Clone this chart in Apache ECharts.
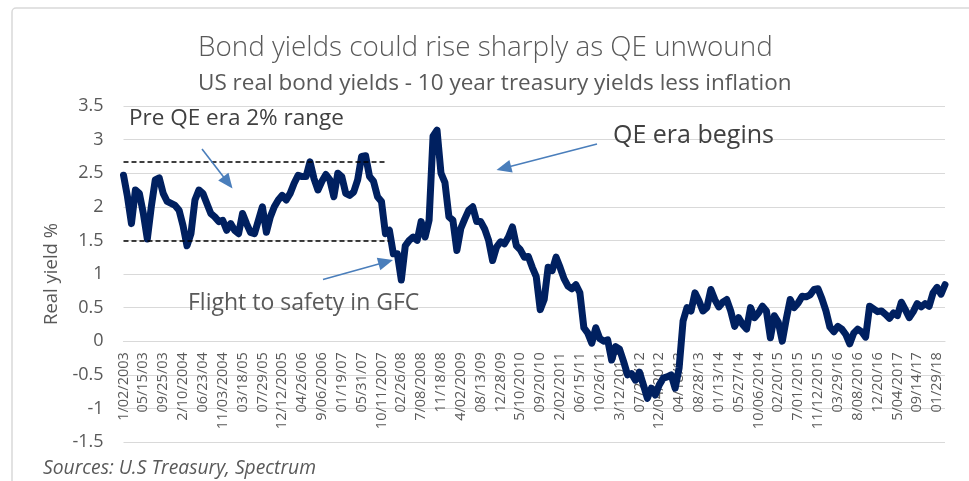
<!DOCTYPE html>
<html>
<head>
<meta charset="utf-8">
<script src="https://cdn.jsdelivr.net/npm/echarts@6/dist/echarts.min.js"></script>
<style>
  html, body { margin: 0; padding: 0; background: #fff; }
  #chart { width: 969px; height: 481px; }
</style>
</head>
<body>
<div id="chart"></div>
<script>
// Date labels shown on the category axis (one every 5 samples)
const tickLabels = ['1/02/2003','05/15/03','09/25/03','2/10/2004','06/23/04','11/03/2004','03/18/05','07/29/05',
  '12/12/2005','04/26/06','9/06/2006','01/19/07','05/31/07','10/11/2007','02/26/08','7/08/2008','11/18/08',
  '4/02/2009','08/13/09','12/28/09','5/10/2010','09/20/10','2/02/2011','06/15/11','10/26/11','3/12/2012',
  '07/20/12','12/04/2012','04/18/13','08/28/13','01/13/14','05/27/14','10/06/2014','02/20/15','7/01/2015',
  '11/12/2015','03/29/16','8/08/2016','12/20/16','5/04/2017','09/14/17','01/29/18'];
const samplesPerTick = 5;

// US 10-year real yield (%), treasury yield less inflation
const realYield = [
  2.47, 2.15, 1.75, 2.25, 2.2, 1.9, 1.52, 2.0, 2.4, 2.43,
  2.2, 2.08, 2.05, 2.02, 1.95, 1.72, 1.42, 1.6, 2.1, 2.25,
  2.2, 2.05, 1.9, 1.85, 1.78, 1.8, 1.65, 1.75, 1.65, 1.6,
  1.9, 1.75, 1.62, 1.6, 1.8, 2.0, 1.62, 1.85, 2.0, 2.1,
  2.17, 2.1, 2.2, 2.35, 2.47, 2.45, 2.45, 2.67, 2.42, 2.25,
  2.38, 2.48, 2.4, 2.15, 2.5, 2.45, 2.2, 2.17, 2.22, 2.4,
  2.75, 2.76, 2.45, 2.38, 2.15, 2.08, 1.6, 1.65, 1.3, 1.3,
  0.91, 1.42, 1.5, 1.55, 1.5, 1.78, 1.55, 1.8, 3.05, 3.14,
  2.5, 2.36, 1.85, 1.8, 1.35, 1.68, 1.82, 1.95, 2.0, 1.78,
  1.78, 1.67, 1.5, 1.2, 1.4, 1.48, 1.45, 1.55, 1.7, 1.42,
  1.36, 1.25, 1.26, 1.1, 0.96, 0.47, 0.62, 1.1, 1.05, 1.25,
  1.1, 0.93, 0.82, 0.78, 0.84, 0.72, 0.2, 0.12, -0.03, 0.2,
  0.04, 0.0, 0.02, -0.28, -0.08, -0.12, -0.3, -0.5, -0.48, -0.58,
  -0.46, -0.65, -0.85, -0.7, -0.8, -0.65, -0.55, -0.53, -0.5, -0.7,
  -0.4, 0.3, 0.5, 0.45, 0.72, 0.6, 0.45, 0.5, 0.77, 0.62,
  0.51, 0.58, 0.62, 0.45, 0.22, 0.35, 0.25, 0.18, 0.5, 0.35,
  0.42, 0.52, 0.45, 0.05, 0.38, 0.28, 0.0, 0.33, 0.62, 0.5,
  0.57, 0.67, 0.66, 0.69, 0.77, 0.78, 0.63, 0.45, 0.21, 0.14,
  0.22, 0.18, 0.1, -0.04, 0.12, 0.18, 0.14, 0.06, 0.52, 0.48,
  0.44, 0.45, 0.4, 0.34, 0.42, 0.38, 0.58, 0.47, 0.35, 0.44,
  0.56, 0.51, 0.56, 0.52, 0.72, 0.8, 0.7, 0.84
];

// Pre-QE trading range (2003 – late 2007)
const preQeHigh = 2.67;
const preQeLow = 1.5;
const preQeHighEnd = 66;
const preQeLowEnd = 67;

// Value axis range
const yMin = -1.5, yMax = 3.5, yStep = 0.5;

// Category list: a date label on every 5th sample, blanks between
const categories = realYield.map((_, i) =>
  i % samplesPerTick === 0 ? (tickLabels[i / samplesPerTick] || '') : '');

const FONT = '"Open Sans", "Noto Sans", sans-serif';
const GREY = '#595959';
const ARROW = '#4A7EBB';

// Plot area
const GRID_TOP = 106, GRID_BOTTOM = 39, CHART_H = 481;
const plotH = CHART_H - GRID_TOP - GRID_BOTTOM;
// Lift the category axis (line and labels) from the bottom edge up to the zero line
const zeroLift = plotH * (0 - yMin) / (yMax - yMin);

function arrow(x1, y1, x2, y2) {
  const dx = x2 - x1, dy = y2 - y1;
  const len = Math.sqrt(dx * dx + dy * dy);
  const ux = dx / len, uy = dy / len;
  const headLen = 15, headHalf = 6.5;
  const bx = x2 - ux * headLen, by = y2 - uy * headLen;
  return [
    { type: 'line', z: 100,
      shape: { x1: x1, y1: y1, x2: bx + ux * 2, y2: by + uy * 2 },
      style: { stroke: ARROW, lineWidth: 1.6 } },
    { type: 'polygon', z: 100,
      shape: { points: [[x2, y2], [bx - uy * headHalf, by + ux * headHalf], [bx + uy * headHalf, by - ux * headHalf]] },
      style: { fill: ARROW } }
  ];
}

const chart = echarts.init(document.getElementById('chart'), null, { renderer: 'canvas' });

chart.setOption({
  animation: false,
  backgroundColor: '#fff',
  title: [
    { text: 'Bond yields could rise sharply as QE unwound', left: 198, top: 34, padding: 0,
      textStyle: { fontFamily: FONT, fontWeight: 300, fontSize: 27.8, color: GREY } },
    { text: 'US real bond yields - 10 year treasury yields less inflation', left: 198, top: 72, padding: 0,
      textStyle: { fontFamily: FONT, fontWeight: 'normal', fontSize: 22.5, color: GREY } }
  ],
  grid: { left: 123.5, right: 24, top: GRID_TOP, bottom: GRID_BOTTOM, containLabel: false, outerBoundsMode: 'none' },
  xAxis: {
    type: 'category',
    data: categories,
    boundaryGap: false,
    position: 'bottom',
    offset: -zeroLift,
    z: 1,
    axisTick: { show: false },
    axisLine: { onZero: false, lineStyle: { color: '#d9d9d9', width: 1.2 } },
    axisLabel: { interval: samplesPerTick - 1, rotate: 90, margin: 11, fontSize: 14.5,
      color: GREY, fontFamily: FONT },
    splitLine: { show: false }
  },
  yAxis: {
    type: 'value',
    min: yMin, max: yMax, interval: yStep,
    name: 'Real yield %',
    nameLocation: 'middle',
    nameGap: 62,
    nameTextStyle: { fontSize: 18.5, color: GREY, fontFamily: FONT },
    axisLine: { show: false },
    axisTick: { show: false },
    axisLabel: { fontSize: 18, color: GREY, fontFamily: FONT, margin: 20 },
    splitLine: { lineStyle: { color: '#d9d9d9', width: 1.2 } }
  },
  series: [
    {
      name: 'Real yield',
      type: 'line',
      data: realYield,
      showSymbol: false,
      z: 3,
      lineStyle: { color: '#002060', width: 7, join: 'round', cap: 'round' },
      markLine: {
        silent: true,
        symbol: 'none',
        label: { show: false },
        lineStyle: { color: '#000', width: 1.6, type: [5, 3] },
        z: 5,
        data: [
          [{ coord: [0, preQeHigh] }, { coord: [preQeHighEnd, preQeHigh] }],
          [{ coord: [0, preQeLow] }, { coord: [preQeLowEnd, preQeLow] }]
        ]
      }
    }
  ],
  graphic: [
    { type: 'rect', z: -1, silent: true,
      shape: { x: 12, y: 8, width: 1200, height: 800, r: 4 },
      style: { fill: 'none', stroke: '#d9d9d9', lineWidth: 1.5 } },
    { type: 'text', left: 129, top: 107, z: 100,
      style: { text: 'Pre QE era 2% range', font: '22.5px ' + FONT, fill: '#404040' } },
    { type: 'text', left: 613, top: 123, z: 100,
      style: { text: 'QE era begins', font: '25px ' + FONT, fill: '#404040' } },
    { type: 'text', left: 188, top: 292, z: 100,
      style: { text: 'Flight to safety in GFC', font: '23px ' + FONT, fill: GREY } },
    { type: 'text', left: 43, top: 459, z: 100,
      style: { text: 'Sources: U.S Treasury, Spectrum', font: 'italic 19.3px ' + FONT, fill: GREY } }
  ].concat(arrow(202, 149, 232.5, 188.5))
   .concat(arrow(323, 279.5, 393, 260))
   .concat(arrow(597, 144, 496.5, 170))
});
</script>
</body>
</html>
